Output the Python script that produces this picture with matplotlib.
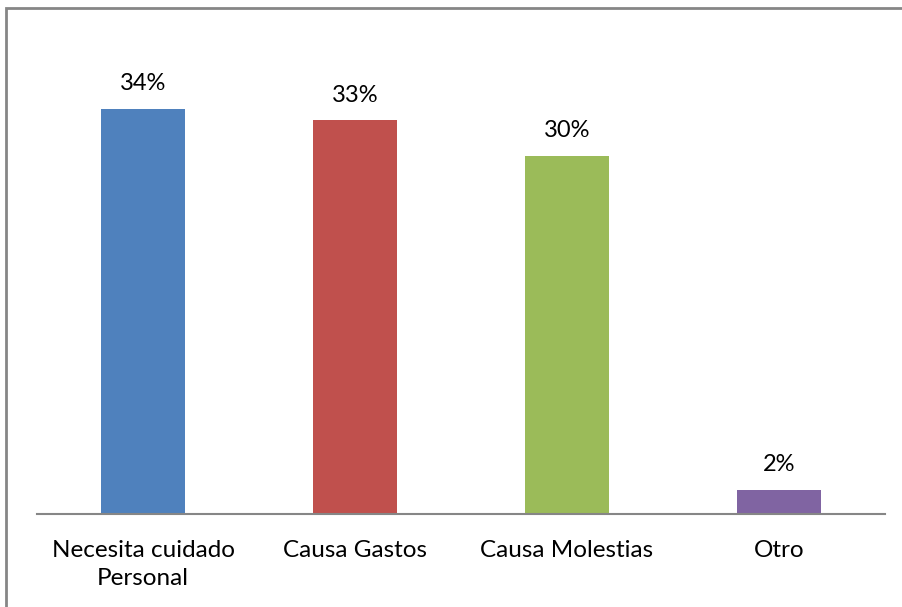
import matplotlib
matplotlib.use("Agg")
import matplotlib.pyplot as plt
from matplotlib.patches import Rectangle

categories = ["Necesita cuidado\nPersonal", "Causa Gastos", "Causa Molestias", "Otro"]
values = [34, 33, 30, 2]
labels = ["34%", "33%", "30%", "2%"]
colors = ["#4F81BD", "#C0504D", "#9BBB59", "#8064A2"]

plt.rcParams['font.family'] = ['Lato', 'DejaVu Sans']

fig = plt.figure(figsize=(9.02, 6.07), dpi=100)
ax = fig.add_axes([37 / 902, 93 / 607, 848 / 902, 477 / 607])

x = range(len(categories))
bars = ax.bar(x, values, width=0.4, color=colors)
for b, lab in zip(bars, labels):
    ax.text(b.get_x() + b.get_width() / 2, b.get_height() + 1.25, lab,
            ha='center', va='bottom', fontsize=17, color='black')

ax.set_xlim(-0.5, len(categories) - 0.5)
ax.set_ylim(0, 40)
ax.set_yticks([])
ax.set_xticks(list(x))
ax.set_xticklabels(categories, fontsize=17.5, linespacing=1.4)
ax.tick_params(axis='x', length=0, pad=19)
for s in ['top', 'right', 'left']:
    ax.spines[s].set_visible(False)
ax.spines['bottom'].set_color('#868686')
ax.spines['bottom'].set_linewidth(1.5)

# chart area border (cut off on right and bottom in the reference)
fig.patches.append(Rectangle((6 / 902, -0.1), 1.2, 1 - 8 / 607 + 0.1,
                             transform=fig.transFigure, fill=False,
                             edgecolor='#868686', linewidth=2))

fig.savefig("out.png", dpi=100)
